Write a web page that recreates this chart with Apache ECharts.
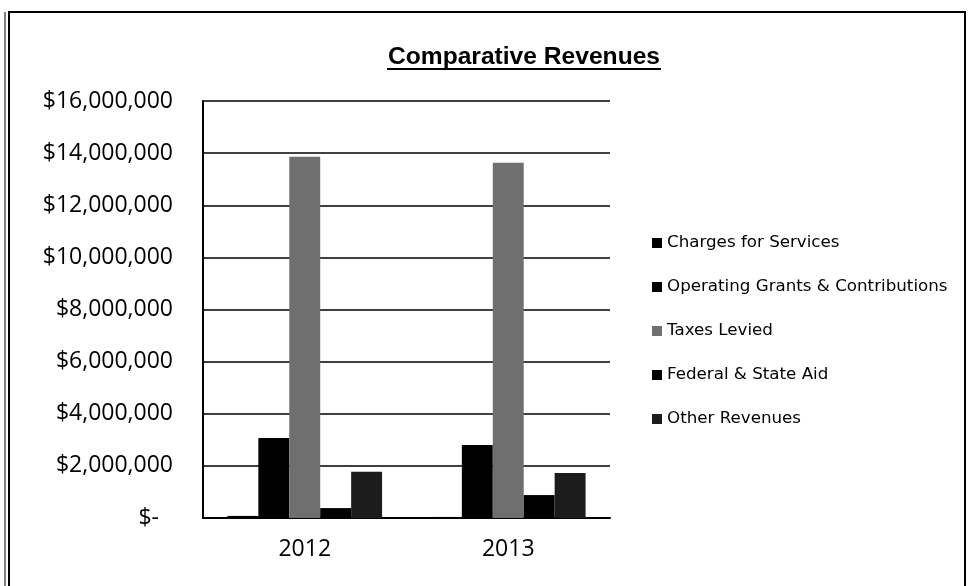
<!DOCTYPE html>
<html>
<head>
<meta charset="utf-8">
<script src="https://cdn.jsdelivr.net/npm/echarts@6/dist/echarts.min.js"></script>
<style>html,body{margin:0;padding:0;background:#fff}#c{width:969px;height:586px}</style>
</head>
<body>
<div id="c"></div>
<script>
const categories = ['2012', '2013'];
const seriesNames = ['Charges for Services', 'Operating Grants & Contributions', 'Taxes Levied', 'Federal & State Aid', 'Other Revenues'];
const chargesForServices = [80000, 40000];
const operatingGrants = [3070000, 2800000];
const taxesLevied = [13860000, 13630000];
const federalStateAid = [380000, 880000];
const otherRevenues = [1770000, 1730000];
const seriesColors = ['#000000', '#000000', '#6f6f6f', '#000000', '#1c1c1c'];

const seriesData = [chargesForServices, operatingGrants, taxesLevied, federalStateAid, otherRevenues];

const chart = echarts.init(document.getElementById('c'));
const fmt = v => v === 0 ? '{z|$-}' : '$' + v.toLocaleString('en-US');

chart.setOption({
  animation: false,
  backgroundColor: '#fff',
  title: {
    text: 'Comparative Revenues',
    left: 383,
    top: 40,
    textStyle: { fontFamily: 'Liberation Sans', fontWeight: 'bold', fontSize: 24.6, color: '#000' }
  },
  graphic: [
    { type: 'rect', shape: { x: 9, y: 12, width: 956, height: 580 }, style: { fill: 'none', stroke: '#000', lineWidth: 2 } },
    { type: 'line', shape: { x1: 5, y1: 12, x2: 5, y2: 586 }, style: { stroke: '#000', lineWidth: 1 } },
    { type: 'line', shape: { x1: 387, y1: 69, x2: 661, y2: 69 }, style: { stroke: '#000', lineWidth: 2 } }
  ],
  legend: {
    orient: 'vertical',
    left: 647,
    top: 229,
    itemWidth: 10,
    itemHeight: 10,
    itemGap: 26,
    icon: 'rect',
    textStyle: { fontFamily: 'DejaVu Sans', fontSize: 16.7, color: '#000', lineHeight: 18 },
    data: seriesNames
  },
  grid: { left: 203, right: 359, top: 101, bottom: 68, containLabel: false },
  xAxis: {
    type: 'category',
    data: categories,
    axisLine: { lineStyle: { color: '#000', width: 2 } },
    axisTick: { show: false },
    axisLabel: { fontFamily: 'Open Sans', fontSize: 23, color: '#000', margin: 20 }
  },
  yAxis: {
    type: 'value',
    min: 0,
    max: 16000000,
    interval: 2000000,
    axisLine: { show: true, lineStyle: { color: '#000', width: 2 } },
    axisTick: { show: false },
    splitLine: { lineStyle: { color: '#000', width: 1.5 } },
    axisLabel: {
      fontFamily: 'Open Sans', fontSize: 23, color: '#000', margin: 30,
      formatter: fmt,
      rich: { z: { fontFamily: 'Open Sans', fontSize: 23, color: '#000', padding: [0, 14, 0, 0] } }
    }
  },
  series: seriesNames.map((name, i) => ({
    name: name,
    type: 'bar',
    data: seriesData[i],
    barGap: '0%',
    barCategoryGap: '24%',
    itemStyle: { color: seriesColors[i] }
  }))
});
</script>
</body>
</html>
